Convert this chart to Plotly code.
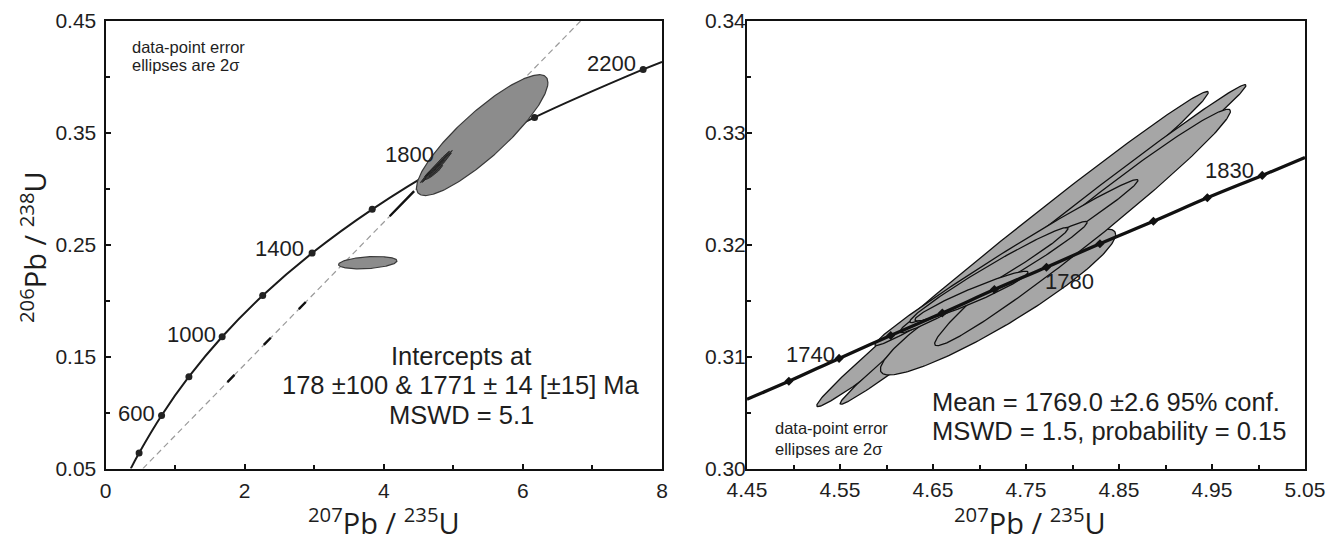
import numpy as np
import plotly.graph_objects as go

# ---------------- data ----------------
# Left panel: concordia age markers (Ma) and their ratios
concL_age = [400, 600, 800, 1000, 1200, 1400, 1600, 1800, 2000, 2200]
concL_x = [0.483, 0.806, 1.199, 1.677, 2.260, 2.970, 3.834, 4.887, 6.168, 7.729]
concL_y = [0.0640, 0.0975, 0.1321, 0.1678, 0.2046, 0.2426, 0.2817, 0.3221, 0.3638, 0.4067]
# curve continuation to the frame edges
concL_start = (0.363, 0.050)
concL_end = (8.0, 0.4135)

# discordia (lower intercept 178 Ma, upper intercept 1771 Ma), frame crossings
disc_x = [0.537, 6.83]
disc_y = [0.050, 0.450]

# Left panel error ellipses (2 sigma): x, 2s_x, y, 2s_y, rho
ellL_x = [5.415, 3.77]
ellL_sx = [0.945, 0.42]
ellL_y = [0.348, 0.2340]
ellL_sy = [0.054, 0.0055]
ellL_rho = [0.87, 0.30]

# Right panel: concordia age markers (Ma)
concR_age = [1730, 1740, 1750, 1760, 1770, 1780, 1790, 1800, 1810, 1820]
concR_x = [4.495, 4.549, 4.6045, 4.660, 4.716, 4.772, 4.8295, 4.887, 4.945, 5.004]
concR_y = [0.3078, 0.30985, 0.3119, 0.3139, 0.3160, 0.3180, 0.3201, 0.3221, 0.3242, 0.3262]
concR_start = (4.45, 0.3062)
concR_end = (5.05, 0.3278)

# Right panel data-point error ellipses (2 sigma)
ellR_x = [4.7355, 4.7683, 4.7199, 4.8108, 4.7290, 4.7151, 4.7102, 4.6914]
ellR_sx = [0.2105, 0.2182, 0.1265, 0.1590, 0.1415, 0.1007, 0.0851, 0.0609]
ellR_y = [0.31962, 0.32003, 0.31489, 0.32155, 0.31842, 0.31712, 0.31730, 0.31542]
ellR_sy = [0.01408, 0.01428, 0.00652, 0.01057, 0.00741, 0.00497, 0.00425, 0.00222]
ellR_rho = [0.994, 0.9956, 0.924, 0.983, 0.990, 0.982, 0.980, 0.953]

# ---------------- helpers ----------------
def ellipse(cx, sx, cy, sy, rho, n=240):
    t = np.linspace(0, 2 * np.pi, n)
    u, v = np.cos(t), np.sin(t)
    x = cx + sx * u
    y = cy + sy * (rho * u + np.sqrt(1 - rho ** 2) * v)
    return x, y

TXT = "#1e1e1e"
NUMFONT = "Liberation Sans, Arial, sans-serif"
TITLEFONT = "Open Sans, Noto Sans, sans-serif"

# the page body has an 8px margin: the figure sits at (8, 8)
OFF = 8
W, H = 1338 - OFF, 546 - OFF
def px(xp):   # page x -> paper fraction
    return (xp - OFF) / W
def py(yp):   # page y -> paper fraction
    return 1 - (yp - OFF) / H

fig = go.Figure()

# ----- left panel -----
fig.add_trace(go.Scatter(x=disc_x, y=disc_y, mode="lines", xaxis="x", yaxis="y",
                         line=dict(color="#9a9a9a", width=1.2, dash="6px,4px"),
                         hoverinfo="skip", showlegend=False))
fig.add_trace(go.Scatter(x=disc_x, y=disc_y, mode="lines", xaxis="x", yaxis="y",
                         line=dict(color="#111111", width=2.4,
                                   dash="0px,121px,10px,42px,10px,40px,10px,120px,35px,1000px"),
                         hoverinfo="skip", showlegend=False))
cLx = [concL_start[0]] + concL_x + [concL_end[0]]
cLy = [concL_start[1]] + concL_y + [concL_end[1]]
fig.add_trace(go.Scatter(x=cLx, y=cLy, mode="lines", line=dict(color="#1a1a1a", width=2, shape="spline"),
                         xaxis="x", yaxis="y", hoverinfo="skip", showlegend=False))
fig.add_trace(go.Scatter(x=concL_x, y=concL_y, mode="markers", xaxis="x", yaxis="y",
                         marker=dict(color="#222222", size=7, symbol="circle"),
                         hoverinfo="skip", showlegend=False))
for i in range(len(ellL_x)):
    ex, ey = ellipse(ellL_x[i], ellL_sx[i], ellL_y[i], ellL_sy[i], ellL_rho[i])
    fig.add_trace(go.Scatter(x=ex, y=ey, mode="lines", fill="toself", fillcolor="#8c8c8c",
                             line=dict(color="#3a3a3a", width=1.2), xaxis="x", yaxis="y",
                             hoverinfo="skip", showlegend=False))
for i in range(len(ellR_x)):
    ex, ey = ellipse(ellR_x[i], ellR_sx[i], ellR_y[i], ellR_sy[i], ellR_rho[i])
    fig.add_trace(go.Scatter(x=ex, y=ey, mode="lines", fill="toself", fillcolor="#3c3c3c",
                             line=dict(color="#222222", width=0.8), xaxis="x", yaxis="y",
                             hoverinfo="skip", showlegend=False))

# ----- right panel -----
for i in range(len(ellR_x)):
    ex, ey = ellipse(ellR_x[i], ellR_sx[i], ellR_y[i], ellR_sy[i], ellR_rho[i])
    fig.add_trace(go.Scatter(x=ex, y=ey, mode="lines", fill="toself", fillcolor="#a6a6a6",
                             line=dict(color="#111111", width=1.3), xaxis="x2", yaxis="y2",
                             hoverinfo="skip", showlegend=False))
cRx = [concR_start[0]] + concR_x + [concR_end[0]]
cRy = [concR_start[1]] + concR_y + [concR_end[1]]
fig.add_trace(go.Scatter(x=cRx, y=cRy, mode="lines", line=dict(color="#111111", width=3.3, shape="spline"),
                         xaxis="x2", yaxis="y2", hoverinfo="skip", showlegend=False))
fig.add_trace(go.Scatter(x=concR_x, y=concR_y, mode="markers", xaxis="x2", yaxis="y2",
                         marker=dict(color="#111111", size=7, symbol="diamond"),
                         hoverinfo="skip", showlegend=False))

# ----- axes -----
ax_common = dict(showline=True, linecolor="#111111", linewidth=2, mirror=True, showgrid=False,
                 zeroline=False, ticks="inside", ticklen=5, tickwidth=1.5, tickcolor="#111111",
                 tickfont=dict(family=NUMFONT, size=21, color=TXT), automargin=False)

ydom = [py(468.6), py(21)]
fig.update_layout(
    width=W, height=H, margin=dict(l=0, r=0, t=0, b=0),
    paper_bgcolor="white", plot_bgcolor="white", showlegend=False,
    xaxis=dict(domain=[px(105.5), px(662)], range=[0, 8], tick0=0, dtick=2, anchor="y",
               ticklabelstandoff=2,
               minor=dict(dtick=1, ticks="inside", ticklen=4, tickcolor="#111111"), **ax_common),
    yaxis=dict(domain=ydom, range=[0.05, 0.45], tick0=0.05, dtick=0.1, tickformat=".2f", anchor="x",
               ticklabelstandoff=3,
               minor=dict(dtick=0.05, ticks="inside", ticklen=4, tickcolor="#111111"), **ax_common),
    xaxis2=dict(domain=[px(747), px(1305)], range=[4.45, 5.05], tick0=4.45, dtick=0.1,
                tickformat=".2f", anchor="y2", ticklabelstandoff=1,
                minor=dict(dtick=0.05, ticks="inside", ticklen=4, tickcolor="#111111"), **ax_common),
    yaxis2=dict(domain=ydom, range=[0.30, 0.34], tick0=0.30, dtick=0.01, tickformat=".2f",
                anchor="x2", ticklabelstandoff=-5,
                minor=dict(dtick=0.005, ticks="inside", ticklen=4, tickcolor="#111111"), **ax_common),
)

ann = []
def A(text, x, y, xref, yref, size, xanchor="center", family=NUMFONT, angle=0):
    ann.append(dict(text=text, x=x, y=y, xref=xref, yref=yref, showarrow=False, xanchor=xanchor,
                    yanchor="middle", textangle=angle, borderpad=0,
                    font=dict(family=family, size=size, color=TXT)))

# axis titles
A("<sup>206</sup>Pb / <sup>238</sup>U", px(33), py(247), "paper", "paper", 29, family=TITLEFONT, angle=-90)
A("<sup>207</sup>Pb / <sup>235</sup>U", px(383.5), py(521), "paper", "paper", 29, family=TITLEFONT)
A("<sup>207</sup>Pb / <sup>235</sup>U", px(1030), py(521), "paper", "paper", 29, family=TITLEFONT)

# left panel texts
A("600", 0.448, 0.0993, "x", "y", 22)
A("1000", 1.241, 0.1697, "x", "y", 22)
A("1400", 2.504, 0.2464, "x", "y", 22)
A("1800", 4.369, 0.3307, "x", "y", 22)
A("2200", 7.281, 0.4119, "x", "y", 22)
A("data-point error", 0.36, 0.4267, "x", "y", 16.5, xanchor="left")
A("ellipses are 2σ", 0.36, 0.4111, "x", "y", 16.5, xanchor="left")
A("Intercepts at", 5.115, 0.1510, "x", "y", 25.5)
A("178 ±100 & 1771 ± 14 [±15] Ma", 5.115, 0.1244, "x", "y", 25.5)
A("MSWD = 5.1", 5.115, 0.0979, "x", "y", 25.5)

# right panel texts
A("1740", 4.5188, 0.31017, "x2", "y2", 22)
A("1780", 4.7964, 0.3167, "x2", "y2", 22)
A("1830", 4.9691, 0.32665, "x2", "y2", 22)
A("data-point error", 4.479, 0.30365, "x2", "y2", 16.5, xanchor="left")
A("ellipses are 2σ", 4.479, 0.30178, "x2", "y2", 16.5, xanchor="left")
A("Mean = 1769.0 ±2.6 95% conf.", 4.6475, 0.30598, "x2", "y2", 25.5, xanchor="left")
A("MSWD = 1.5, probability = 0.15", 4.6475, 0.30333, "x2", "y2", 25.5, xanchor="left")

fig.update_layout(annotations=ann)
fig.write_html("out.html")
